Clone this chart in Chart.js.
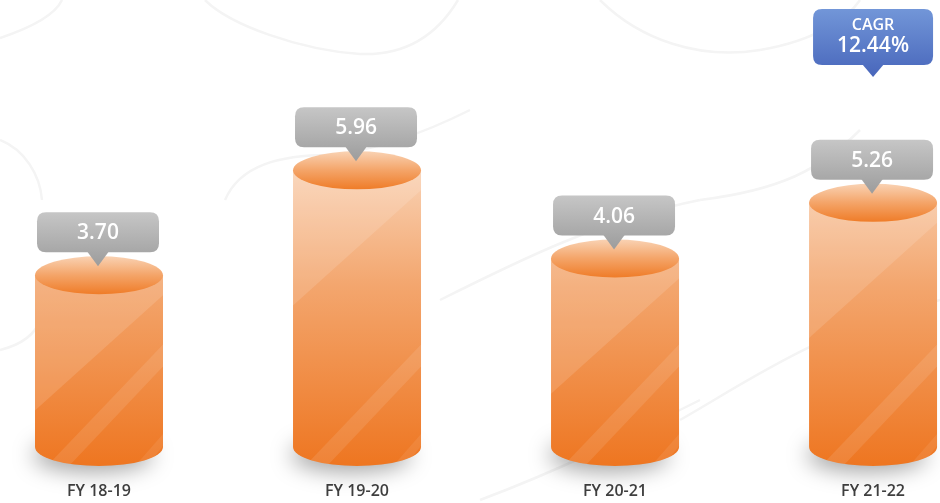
<!DOCTYPE html>
<html>
<head>
<meta charset="utf-8">
<script src="https://cdn.jsdelivr.net/npm/chart.js@4/dist/chart.umd.min.js"></script>
<style>
  html, body { margin: 0; padding: 0; background: #ffffff; }
  #wrap { width: 940px; height: 503px; position: relative; }
</style>
</head>
<body>
<div id="wrap"><canvas id="chart"></canvas></div>
<script>
const categories = ['FY 18-19', 'FY 19-20', 'FY 20-21', 'FY 21-22'];
const values = [3.70, 5.96, 4.06, 5.26];
const valueLabels = ['3.70', '5.96', '4.06', '5.26'];
const cagrTitle = 'CAGR';
const cagrValue = '12.44%';

const FONT = "'Open Sans', 'DejaVu Sans', sans-serif";

function roundRect(ctx, x, y, w, h, r) {
    ctx.beginPath();
    ctx.moveTo(x + r, y);
    ctx.lineTo(x + w - r, y);
    ctx.quadraticCurveTo(x + w, y, x + w, y + r);
    ctx.lineTo(x + w, y + h - r);
    ctx.quadraticCurveTo(x + w, y + h, x + w - r, y + h);
    ctx.lineTo(x + r, y + h);
    ctx.quadraticCurveTo(x, y + h, x, y + h - r);
    ctx.lineTo(x, y + r);
    ctx.quadraticCurveTo(x, y, x + r, y);
    ctx.closePath();
}

// speech bubble with a small pointer at the bottom
function bubble(ctx, cx, top, w, h, tipY, c1, c2) {
    const grad = ctx.createLinearGradient(0, top, 0, tipY);
    grad.addColorStop(0, c1);
    grad.addColorStop(1, c2);
    ctx.fillStyle = grad;
    roundRect(ctx, cx - w / 2, top, w, h, 9);
    ctx.fill();
    ctx.beginPath();
    ctx.moveTo(cx - 11, top + h - 1);
    ctx.lineTo(cx + 11, top + h - 1);
    ctx.lineTo(cx, tipY);
    ctx.closePath();
    ctx.fill();
}

// faint contour lines in the background
const backdrop = {
    id: 'backdrop',
    beforeDraw(chart) {
        const ctx = chart.ctx;
        ctx.save();
        ctx.strokeStyle = '#f4f4f4';
        ctx.lineWidth = 2.5;
        const curves = [
            [[0, 38], [30, 28], [55, 15], [62, 0]],
            [[205, 0], [230, 25], [300, 50], [360, 54]],
            [[360, 54], [410, 56], [440, 30], [458, 0]],
            [[0, 140], [25, 150], [40, 175], [42, 200]],
            [[225, 200], [240, 165], [280, 155], [330, 155]],
            [[330, 155], [380, 150], [430, 130], [470, 110]],
            [[440, 300], [520, 260], [600, 220], [700, 200]],
            [[700, 200], [780, 190], [820, 170], [860, 130]],
            [[600, 0], [640, 40], [700, 60], [760, 50]],
            [[760, 50], [820, 40], [850, 15], [860, 0]],
            [[680, 420], [750, 380], [820, 330], [940, 300]],
            [[0, 350], [20, 345], [35, 335], [40, 320]],
            [[480, 500], [560, 470], [620, 440], [700, 400]]
        ];
        curves.forEach(c => {
            ctx.beginPath();
            ctx.moveTo(c[0][0], c[0][1]);
            ctx.bezierCurveTo(c[1][0], c[1][1], c[2][0], c[2][1], c[3][0], c[3][1]);
            ctx.stroke();
        });
        ctx.restore();
    }
};

const cylinders = {
    id: 'cylinders',
    afterDatasetsDraw(chart) {
        const ctx = chart.ctx;
        const meta = chart.getDatasetMeta(0);
        const ry = 19;
        meta.data.forEach((bar, i) => {
            const p = bar.getProps(['x', 'y', 'base', 'width'], true);
            const rx = p.width / 2;
            const x = p.x, top = p.y, base = p.base;

            // soft shadow on the floor
            ctx.save();
            ctx.shadowColor = 'rgba(0,0,0,0.5)';
            ctx.shadowBlur = 22;
            ctx.shadowOffsetX = -6;
            ctx.shadowOffsetY = 6;
            ctx.fillStyle = 'rgba(190,190,190,0.7)';
            ctx.beginPath();
            ctx.ellipse(x, base + 2, rx - 4, ry - 2, 0, 0, Math.PI * 2);
            ctx.fill();
            ctx.restore();

            // body
            ctx.save();
            const body = ctx.createLinearGradient(0, 165, 0, 465);
            body.addColorStop(0, '#f9d3b6');
            body.addColorStop(0.4, '#f3a66e');
            body.addColorStop(1, '#ee7621');
            ctx.fillStyle = body;
            ctx.beginPath();
            ctx.moveTo(x - rx, top);
            ctx.lineTo(x - rx, base);
            ctx.ellipse(x, base, rx, ry, 0, Math.PI, 0, true);
            ctx.lineTo(x + rx, top);
            ctx.closePath();
            ctx.fill();

            // glossy diagonal streaks
            ctx.clip();
            ctx.fillStyle = 'rgba(255,255,255,0.13)';
            ctx.beginPath();
            ctx.moveTo(x - rx, top);
            ctx.lineTo(x + rx, top);
            ctx.lineTo(x + rx, top + 20);
            ctx.lineTo(x - rx, top + 20 + p.width * 0.9);
            ctx.closePath();
            ctx.fill();
            ctx.fillStyle = 'rgba(255,255,255,0.10)';
            ctx.beginPath();
            ctx.moveTo(x - rx + 12, base + ry);
            ctx.lineTo(x + rx, base + ry - p.width * 0.95);
            ctx.lineTo(x + rx, base + ry - p.width * 0.95 + 22);
            ctx.lineTo(x - rx + 34, base + ry);
            ctx.closePath();
            ctx.fill();
            ctx.fillStyle = 'rgba(255,255,255,0.08)';
            ctx.beginPath();
            ctx.moveTo(x + rx - 28, base + ry);
            ctx.lineTo(x + rx, base + ry - 32);
            ctx.lineTo(x + rx, base + ry - 20);
            ctx.lineTo(x + rx - 16, base + ry);
            ctx.closePath();
            ctx.fill();
            ctx.restore();

            // top cap
            ctx.save();
            const cap = ctx.createLinearGradient(0, top - ry, 0, top + ry);
            cap.addColorStop(0, '#f9d2b3');
            cap.addColorStop(0.5, '#f4a468');
            cap.addColorStop(1, '#ef7c28');
            ctx.fillStyle = cap;
            ctx.beginPath();
            ctx.ellipse(x, top, rx, ry, 0, 0, Math.PI * 2);
            ctx.fill();
            ctx.restore();

            // value bubble
            ctx.save();
            bubble(ctx, x - 1, top - 63, 122, 40, top - 9, '#c6c6c6', '#9c9c9c');
            ctx.fillStyle = '#ffffff';
            ctx.font = '600 21px ' + FONT;
            ctx.textAlign = 'center';
            ctx.textBaseline = 'middle';
            ctx.fillText(valueLabels[i], x - 1, top - 42);
            ctx.restore();

            // CAGR bubble above the last bar
            if (i === meta.data.length - 1) {
                ctx.save();
                bubble(ctx, x, 9, 120, 56, 77, '#7296d8', '#4866bb');
                ctx.fillStyle = '#ffffff';
                ctx.textAlign = 'center';
                ctx.textBaseline = 'middle';
                ctx.font = '600 16px ' + FONT;
                ctx.fillText(cagrTitle, x, 25);
                ctx.font = '600 21px ' + FONT;
                ctx.fillText(cagrValue, x, 46);
                ctx.restore();
            }
        });
    }
};

const ctx = document.getElementById('chart').getContext('2d');

new Chart(ctx, {
    type: 'bar',
    data: {
        labels: categories,
        datasets: [
            {
                data: values,
                backgroundColor: 'rgba(0,0,0,0)',
                borderWidth: 0,
                barThickness: 128,
                clip: false,
            },
        ],
    },
    options: {
        responsive: true,
        maintainAspectRatio: false,
        animation: false,
        layout: {
            padding: { left: 99, right: 66, top: 0, bottom: 0 },
        },
        plugins: {
            legend: { display: false },
            tooltip: { enabled: false },
        },
        scales: {
            x: {
                offset: false,
                grid: { display: false, drawTicks: false },
                border: { display: false },
                afterFit: (scale) => { scale.height = 56; },
                ticks: {
                    padding: 35,
                    color: '#3f3f3f',
                    font: { family: FONT, size: 16, weight: '600' },
                },
            },
            y: {
                display: false,
                min: 0,
                max: 9.63,
            },
        },
    },
    plugins: [backdrop, cylinders],
});
</script>
</body>
</html>
